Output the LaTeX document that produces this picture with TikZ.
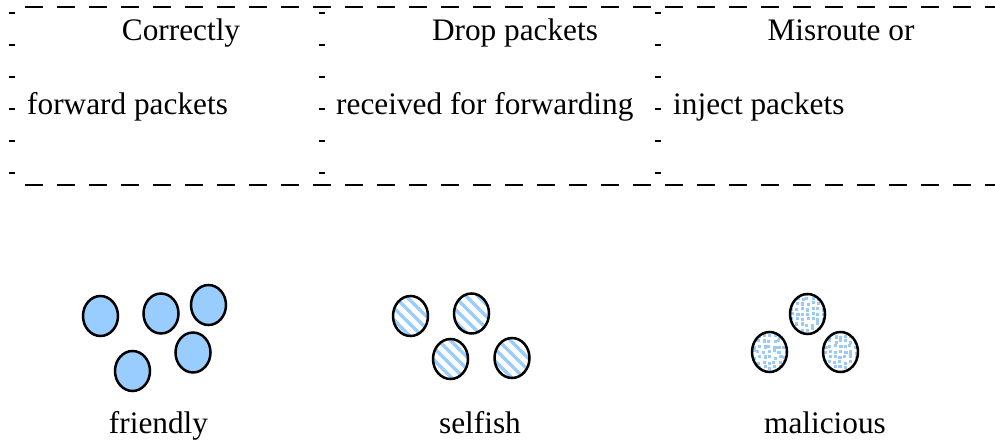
\documentclass[tikz,border=0pt]{standalone}
\usepackage{fontspec}
\setmainfont{Liberation Serif}
\usetikzlibrary{shapes.geometric,patterns.meta}
\definecolor{nodeblue}{HTML}{99CCFF}
\definecolor{dotblue}{HTML}{9CC9F6}
\tikzset{
  lbl/.style={inner sep=0pt, font=\fontsize{31.3}{36}\selectfont},
  hline/.style={line width=2pt, dash pattern=on 18pt off 14pt},
  vtick/.style={line width=6pt, dash pattern=on 2pt off 29.9pt},
  peer/.style={ellipse, draw=black, line width=2.5pt, inner sep=0pt, minimum width=35pt, minimum height=40pt},
  friendly/.style={peer, fill=nodeblue},
  selfish/.style={peer, pattern={Lines[angle=-45, distance=8.5pt, line width=3.4pt]}, pattern color=nodeblue},
  malicious/.style={peer, path picture={
    \foreach \i in {-4,...,4} \foreach \j in {-5,...,5} {
      \fill[dotblue] ([shift={(\i*5.2pt+rand*1.3pt-1.6pt, \j*5.2pt+rand*1.3pt-1.6pt)}]path picture bounding box.center) rectangle ++(3.2pt,3.2pt);
    }}},
}
\begin{document}
\begin{tikzpicture}[x=1pt, y=-1pt]
\pgfmathsetseed{4711}
\useasboundingbox (0,0) rectangle (995,443);
% dashed frame
\draw[hline] (25,7.5) coordinate (tl) -- (995,7.5) coordinate (tr);
\draw[hline] (25,185) coordinate (bl) -- (995,185) coordinate (br);
\draw[vtick] (12,12.3) coordinate (v1a) -- (12,184) coordinate (v1b);
\draw[vtick] (322,12.3) coordinate (v2a) -- (322,184) coordinate (v2b);
\draw[vtick] (658,12.3) coordinate (v3a) -- (658,184) coordinate (v3b);
% texts in boxes
\node[lbl, anchor=base] (c1) at (181,41) {Correctly};
\node[lbl, anchor=base west] (c1b) at (27,115) {forward packets};
\node[lbl, anchor=base] (c2) at (515,41) {Drop packets};
\node[lbl, anchor=base west] (c2b) at (336,115) {received for forwarding};
\node[lbl, anchor=base] (c3) at (841,41) {Misroute or};
\node[lbl, anchor=base west] (c3b) at (673,115) {inject packets};
% friendly nodes
\node[friendly] (f1) at (100.5,316) {};
\node[friendly] (f2) at (161,313.5) {};
\node[friendly] (f3) at (208.5,305) {};
\node[friendly] (f4) at (132.5,371) {};
\node[friendly] (f5) at (193,352.5) {};
% selfish nodes
\node[selfish] (s1) at (410.5,316) {};
\node[selfish] (s2) at (471.5,313.5) {};
\node[selfish] (s3) at (450.5,359) {};
\node[selfish] (s4) at (512,358) {};
% malicious nodes
\node[malicious] (m1) at (807.5,314) {};
\node[malicious] (m2) at (769.5,352) {};
\node[malicious] (m3) at (840.5,352) {};
% labels
\node[lbl, anchor=base] (lf) at (158.5,433) {friendly};
\node[lbl, anchor=base] (ls) at (480,433) {selfish};
\node[lbl, anchor=base] (lm) at (825,433) {malicious};
\end{tikzpicture}
\end{document}
